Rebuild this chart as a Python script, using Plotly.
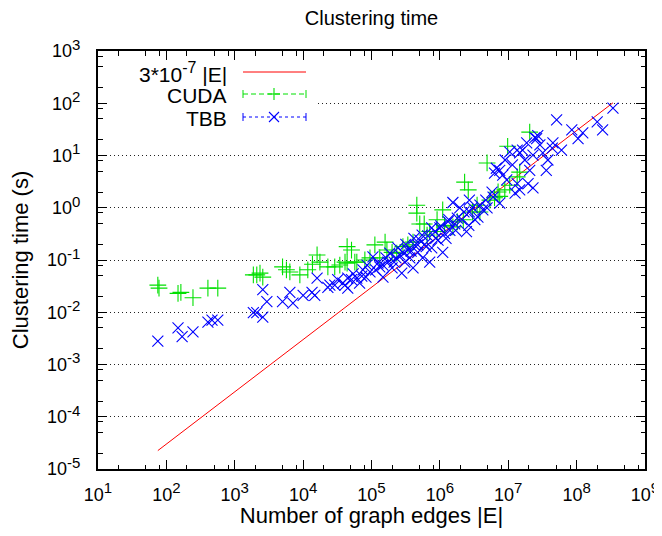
import plotly.graph_objects as go

# ---------------- data ----------------
cuda_edges = [75, 78, 148, 163, 245, 405, 565, 1870, 2100, 2570, 2340, 5000, 5700, 6400, 8960,
              11700, 16000, 13700, 23000, 29000, 44000, 51000, 44000, 61000, 112000, 158000,
              80000, 95000, 132000, 168000, 234000, 288000, 405000, 460000, 460000, 508000,
              590000, 650000, 910000, 1.1e6, 910000, 1.55e6, 2.2e6, 3.0e6, 2.3e6, 2.6e6,
              4.9e6, 9.8e6, 2.06e7, 1.47e7, 1.35e7, 7.1e6, 6.3e6, 7.5e6, 8.9e6, 41000, 34400,
              57000, 200000, 340000, 710000, 1.17e6, 1.8e6, 3.85e6, 3.5e6, 5.4e6, 1.05e7, 17600]
cuda_time = [0.033, 0.029, 0.023, 0.024, 0.019, 0.029, 0.029, 0.052, 0.052, 0.047, 0.056, 0.074,
             0.065, 0.059, 0.052, 0.065, 0.125, 0.083, 0.074, 0.074, 0.18, 0.155, 0.087, 0.091,
             0.195, 0.22, 0.10, 0.11, 0.11, 0.155, 0.135, 0.18, 0.22, 1.12, 0.79, 0.49, 0.49,
             0.30, 0.35, 0.91, 0.59, 0.43, 0.59, 0.83, 3.1, 2.2, 7.2, 15, 28, 4.8, 3.9, 2.0,
             1.55, 1.65, 2.2, 0.091, 0.080, 0.091, 0.14, 0.195, 0.35, 0.46, 0.54, 0.83, 1.12,
             1.4, 2.7, 0.091]

tbb_edges = [75, 148, 170, 245, 405, 465, 565, 1870, 2100, 2570, 2570, 2950, 5000, 6400, 7100,
             10000, 13500, 16000, 14800, 23000, 29000, 45000, 45000, 61000, 75000, 105000,
             132000, 32000, 38000, 51000, 67000, 83000, 95000, 115000, 147000, 147000, 174000,
             200000, 228000, 260000, 277000, 307000, 340000, 363000, 405000, 430000, 475000,
             508000, 560000, 600000, 665000, 710000, 760000, 850000, 940000, 1.0e6, 1.1e6,
             1.17e6, 1.32e6, 1.4e6, 1.55e6, 1.65e6, 1.8e6, 1.95e6, 2.1e6, 2.45e6, 2.7e6, 3.0e6,
             3.6e6, 3.85e6, 4.9e6, 5.8e6, 6.0e6, 6.3e6, 6.7e6, 7.5e6, 7.5e6, 8.3e6, 9.5e6,
             1.05e7, 1.26e7, 1.35e7, 1.35e7, 1.47e7, 1.47e7, 1.62e7, 1.86e7, 1.95e7, 2.3e7,
             2.3e7, 2.45e7, 2.6e7, 2.7e7, 2.9e7, 3.2e7, 3.6e7, 3.8e7, 4.4e7, 4.5e7, 5.1e7,
             6.0e7, 8.5e7, 1.05e8, 1.23e8, 2.0e8, 2.4e8, 3.4e8,
             24600, 41000, 54000, 72000, 86000, 124000, 163000, 185000, 214000, 243000, 295000,
             318000, 380000, 417000, 475000, 550000, 630000, 760000, 870000, 1.03e6, 1.23e6,
             1.35e6, 1.7e6, 2.25e6, 2.65e6, 3.25e6, 4.25e6, 4.7e6, 2.7e6, 9.0e6, 1.15e7,
             1.75e7, 2.06e7]
tbb_time = [0.0028, 0.0050, 0.0034, 0.0042, 0.0065, 0.0071, 0.0071, 0.0098, 0.0098, 0.0081,
            0.027, 0.016, 0.016, 0.024, 0.015, 0.021, 0.024, 0.045, 0.021, 0.030, 0.033, 0.045,
            0.029, 0.045, 0.065, 0.115, 0.074, 0.042, 0.036, 0.042, 0.036, 0.047, 0.059, 0.065,
            0.080, 0.047, 0.091, 0.071, 0.11, 0.125, 0.056, 0.091, 0.155, 0.11, 0.071, 0.19,
            0.14, 0.24, 0.11, 0.20, 0.29, 0.091, 0.17, 0.35, 0.24, 0.41, 0.14, 0.32, 0.54, 0.37,
            1.26, 0.49, 0.63, 0.99, 0.59, 0.35, 0.83, 1.02, 0.66, 1.12, 0.99, 2.0, 1.6, 4.6,
            5.7, 5.2, 1.23, 4.2, 3.4, 11.7, 1.9, 12.7, 2.9, 11.2, 2.2, 12.7, 17.5, 2.9, 2.4,
            10.2, 22, 21, 24, 16, 11.2, 5.2, 8.2, 13.8, 17.5, 48, 12.7, 31, 21, 27, 44, 31, 81,
            0.033, 0.033, 0.054, 0.049, 0.080, 0.087, 0.11, 0.135, 0.091, 0.17, 0.135, 0.20,
            0.148, 0.26, 0.195, 0.30, 0.18, 0.41, 0.26, 0.45, 0.26, 0.59, 0.37, 0.83, 0.46,
            0.59, 0.91, 1.4, 1.4, 8.2, 6.6, 8.2, 5.2]

fit_coeff = 3e-7
fit_label = "3*10<sup><span style='font-size:16px'>-7</span></sup> |E|"

x_decades = list(range(1, 10))
y_decades = list(range(-5, 4))
x_ticktext = ["10<sup><span style='font-size:15px'>%d</span></sup>" % k for k in x_decades]
y_ticktext = ["10<sup><span style='font-size:15px'>%d</span></sup>" % k for k in y_decades]

# ---------------- figure ----------------
FONT = "Liberation Sans, Arial, sans-serif"
RED, GREEN, BLUE = "#ff0000", "#00e000", "#0000ff"

all_edges = cuda_edges + tbb_edges
fit_x = [min(all_edges), max(all_edges)]
fit_y = [fit_coeff * v for v in fit_x]

fig = go.Figure()
fig.add_trace(go.Scatter(x=fit_x, y=fit_y, mode="lines",
                         line=dict(color=RED, width=1), showlegend=False))
fig.add_trace(go.Scatter(x=cuda_edges, y=cuda_time, mode="markers",
                         marker=dict(symbol="cross-thin", size=12,
                                     line=dict(color=GREEN, width=1.1)),
                         showlegend=False))
fig.add_trace(go.Scatter(x=tbb_edges, y=tbb_time, mode="markers",
                         marker=dict(symbol="x-thin", size=11,
                                     line=dict(color=BLUE, width=1.1)),
                         showlegend=False))

minor_x = [m * 10 ** k for k in range(1, 9) for m in (2, 5, 8)]
minor_y = [m * 10 ** k for k in range(-5, 3) for m in (2, 5, 8)]

axis_common = dict(type="log", showline=True, linecolor="black", linewidth=2,
                   mirror="allticks", ticks="inside", ticklen=9, tickwidth=1,
                   tickcolor="black", zeroline=False, automargin=False,
                   tickfont=dict(family=FONT, size=18, color="black"))

fig.update_xaxes(range=[1, 9], tickmode="array",
                 tickvals=[10 ** k for k in x_decades], ticktext=x_ticktext,
                 showgrid=False, ticklabelstandoff=8,
                 minor=dict(tickmode="array", tickvals=minor_x, ticks="inside",
                            ticklen=4.5, tickwidth=1, tickcolor="black", showgrid=False),
                 title=dict(text="Number of graph edges |E|",
                            font=dict(family=FONT, size=22, color="black"), standoff=14),
                 **axis_common)
fig.update_yaxes(range=[-5, 3], tickmode="array",
                 tickvals=[10 ** k for k in y_decades], ticktext=y_ticktext,
                 showgrid=True, gridcolor="#222222", griddash="1px,3px", gridwidth=1,
                 ticklabelstandoff=12,
                 minor=dict(tickmode="array", tickvals=minor_y, ticks="inside",
                            ticklen=4.5, tickwidth=1, tickcolor="black", showgrid=False),
                 title=dict(text="Clustering time (s)",
                            font=dict(family=FONT, size=22, color="black"), standoff=12),
                 **axis_common)

# ---------------- key (gnuplot style: text, then sample) ----------------
# page-pixel geometry of the plotting area (the page body adds an 8px offset)
OFF = 8
FIG_W, FIG_H = 662 - OFF, 536 - 2 * OFF
L, T, W, H = 98, 51, 547, 418


def dx(p):
    return (p - L) / W


def dy(p):
    return 1 - (p - T) / H


shapes = [dict(type="rect", xref="x domain", yref="y domain",
               x0=dx(108), x1=dx(318), y0=dy(110), y1=dy(98),
               fillcolor="white", line=dict(width=0), layer="above")]
key_rows = [(fit_label, RED, "solid", None, 72),
            ("CUDA", GREEN, "5px,3px", "+", 94),
            ("TBB", BLUE, "3px,3px", "x", 117)]
annotations = []
for label, col, dash, sym, yy in key_rows:
    annotations.append(dict(text=label, xref="x domain", yref="y domain",
                            x=dx(229), y=dy(yy + 1), xanchor="right", yanchor="middle",
                            showarrow=False, font=dict(family=FONT, size=21, color="black")))
    shapes.append(dict(type="line", xref="x domain", yref="y domain",
                       x0=dx(243), x1=dx(306), y0=dy(yy), y1=dy(yy),
                       line=dict(color=col, width=1, dash=dash), layer="above"))
    if sym is not None:
        for xe in (243, 306):
            shapes.append(dict(type="line", xref="x domain", yref="y domain",
                               x0=dx(xe), x1=dx(xe), y0=dy(yy - 4), y1=dy(yy + 4),
                               line=dict(color=col, width=1), layer="above"))
        if sym == "+":
            segs = [((268, yy), (280, yy)), ((274, yy - 6), (274, yy + 6))]
        else:
            segs = [((269, yy - 5), (279, yy + 5)), ((269, yy + 5), (279, yy - 5))]
        for (a, b), (c, d) in segs:
            shapes.append(dict(type="line", xref="x domain", yref="y domain",
                               x0=dx(a), x1=dx(c), y0=dy(b), y1=dy(d),
                               line=dict(color=col, width=1.1), layer="above"))

fig.update_layout(
    width=FIG_W, height=FIG_H,
    margin=dict(l=L - OFF, r=FIG_W - (L + W - OFF), t=T - OFF, b=FIG_H - (T + H - OFF)),
    paper_bgcolor="white", plot_bgcolor="white",
    title=dict(text="Clustering time", x=(L - OFF + W / 2) / FIG_W, xanchor="center",
               y=1 - (18 - OFF) / FIG_H, yanchor="middle",
               font=dict(family=FONT, size=20, color="black")),
    showlegend=False,
    shapes=shapes, annotations=annotations,
)

fig.write_html("out.html")
